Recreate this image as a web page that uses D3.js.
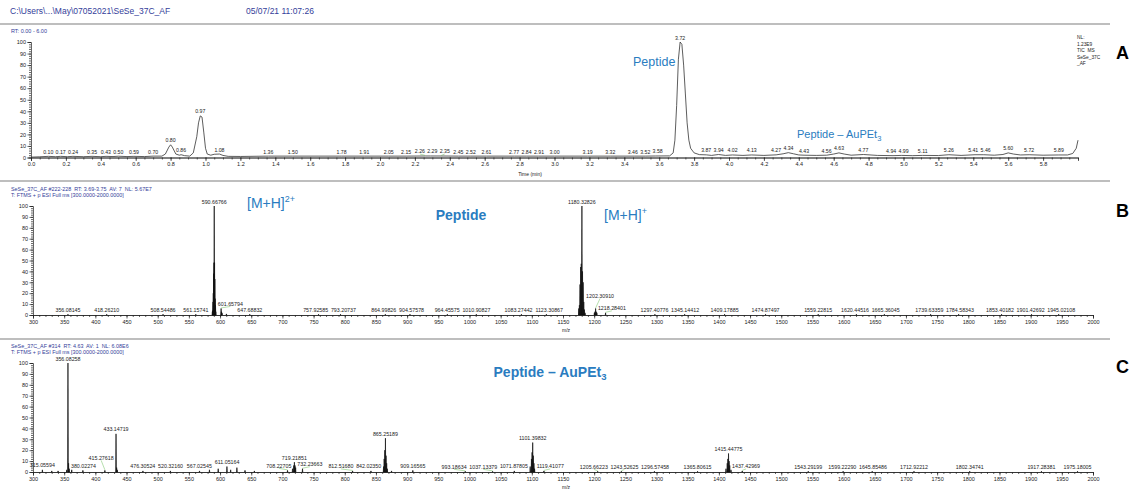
<!DOCTYPE html>
<html>
<head>
<meta charset="utf-8">
<script src="https://cdn.jsdelivr.net/npm/d3@7"></script>
<style>
  body { margin: 0; background: #fff; }
  svg { display: block; font-family: "Liberation Sans", Arial, sans-serif; }
  .pre { white-space: pre; }
</style>
</head>
<body>
<svg id="chart" width="1136" height="491"></svg>
<script>
// ---- Panel A: TIC chromatogram (time in min, relative abundance) ----
const ticTime = [0.00,0.05,0.10,0.14,0.17,0.21,0.24,0.30,0.35,0.40,0.43,0.47,0.50,0.55,0.59,0.65,0.70,0.75,
  0.77,0.79,0.80,0.81,0.83,0.85,0.86,0.88,0.91,0.93,0.95,0.96,0.97,0.98,0.99,1.00,1.01,1.03,1.05,1.08,1.10,1.13,
  1.20,1.36,1.50,1.78,1.91,2.05,2.15,2.26,2.29,2.35,2.45,2.52,2.61,2.77,2.84,2.91,3.00,3.19,3.32,3.46,3.52,3.58,
  3.66,3.68,3.69,3.70,3.71,3.72,3.73,3.74,3.75,3.76,3.77,3.78,3.80,3.83,3.87,3.90,3.94,3.98,4.02,4.08,4.13,4.20,
  4.27,4.31,4.34,4.37,4.40,4.43,4.50,4.56,4.60,4.63,4.66,4.70,4.77,4.85,4.94,4.99,5.05,5.11,5.20,5.26,5.33,5.41,
  5.46,5.52,5.57,5.60,5.63,5.67,5.72,5.80,5.89,5.94,5.97,5.99,6.00];
const ticInt = [0.3,0.6,1.0,0.7,1.0,0.7,1.0,0.7,1.0,0.7,1.0,0.8,1.1,0.8,1.0,0.8,1.2,1.2,
  3,9,11,9,3,2,2.4,1.6,1.2,4,18,30,36,35,22,8,3,2,2.8,3.0,1.8,1.0,
  0.9,1.2,1.2,1.2,1.2,1.2,1.2,1.3,1.3,1.3,1.2,1.2,1.2,1.2,1.2,1.2,1.2,1.2,1.2,1.2,1.2,1.3,
  1.4,4,15,45,85,100,98,80,55,30,15,8,4,2.5,2.3,1.8,2.6,1.8,2.2,1.8,2.2,1.8,
  2.3,3.2,4.2,3.2,2.2,2.0,1.8,2.0,3.0,4.0,3.0,2.0,2.6,1.8,1.6,1.8,1.6,1.8,1.7,2.4,1.8,2.4,
  2.4,2.0,2.6,4.0,3.0,2.2,2.4,2.0,2.2,2.2,3.5,8,15];
const ticLabels = ["0.10","0.17","0.24","0.35","0.43","0.50","0.59","0.70","0.80","0.86","0.97","1.08","1.36",
  "1.50","1.78","1.91","2.05","2.15","2.26","2.29","2.35","2.45","2.52","2.61","2.77","2.84","2.91","3.00","3.19",
  "3.32","3.46","3.52","3.58","3.72","3.87","3.94","4.02","4.13","4.27","4.34","4.43","4.56","4.63","4.77","4.94",
  "4.99","5.11","5.26","5.41","5.46","5.60","5.72","5.89"];
const timeTicks = [0,0.2,0.4,0.6,0.8,1.0,1.2,1.4,1.6,1.8,2.0,2.2,2.4,2.6,2.8,3.0,3.2,3.4,3.6,3.8,4.0,4.2,4.4,4.6,4.8,5.0,5.2,5.4,5.6,5.8];
const nlLines = ["NL:", "1.23E9", "TIC  MS", "SeSe_37C", "_AF"];

// ---- Panel B: MS at RT 3.69-3.75 ----
const bMz = [356.08,418.26,508.54,561.16,
  587.67,588.17,588.67,589.17,589.67,590.17,590.67,591.17,591.67,592.17,592.67,593.17,
  601.66,602.16,603.16,610.2,647.69,757.93,793.21,864.99,904.58,964.46,1010.91,1083.27,1123.31,
  1175.3,1176.3,1177.3,1178.3,1179.3,1180.33,1181.3,1182.3,1183.3,1184.3,1185.3,
  1200.3,1201.3,1202.31,1203.3,1204.3,1218.28,
  1297.41,1345.14,1409.18,1474.87,1559.23,1620.45,1665.36,1739.63,1784.58,1853.40,1901.43,1945.02];
const bInt = [0.6,0.6,0.6,0.6,
  3,4,12,20,38,48,100,48,33,15,9,3,
  6,3,2,1,0.6,0.6,0.6,0.6,0.6,0.6,0.6,0.6,0.6,
  6,9,28,44,47,100,40,30,12,5,2,
  2,3,6,3,2,2,
  0.6,0.6,0.6,0.6,0.6,0.6,0.6,0.6,0.6,0.6,0.6,0.6];
const bLabels = ["356.08145","418.26210","508.54486","561.15741","590.66766","601.65794","647.68832","757.92585",
  "793.20737","864.99826","904.57578","964.45575","1010.90827","1083.27442","1123.30867","1180.32826","1202.30910",
  "1218.28401","1297.40776","1345.14412","1409.17885","1474.87497","1559.22815","1620.44516","1665.36045",
  "1739.63359","1784.58343","1853.40182","1901.42692","1945.02108"];

// ---- Panel C: MS at RT 4.63 ----
const cMz = [315.06,330.1,340.2,354.1,356.08,357.08,358.08,362.1,380.02,415.28,
  433.15,434.15,435.15,476.31,520.32,567.03,583.0,597.0,611.05,617.0,627.0,640.0,655.0,
  708.23,716.2,718.2,719.22,720.2,721.2,732.24,812.52,842.02,
  862.2,863.2,864.2,865.25,866.2,867.2,868.2,875.0,909.17,993.19,1037.13,1071.88,
  1097.4,1099.4,1100.4,1101.40,1102.4,1103.4,1104.4,1119.41,
  1205.66,1243.53,1296.57,1365.81,1411.4,1413.4,1414.4,1415.45,1416.4,1417.4,1419.4,1437.43,
  1543.29,1599.22,1645.85,1712.92,1802.35,1917.28,1975.18];
const cInt = [2,1,1,2,100,8,3,2,1.5,1.5,
  35,4,2,1,1,1,2,3,5,2,4,1.5,1,
  1.5,3,6,9,6,4,3,1,1,
  5,12,20,31,15,8,3,1,1.5,0.6,0.6,1,
  5,12,18,27,15,8,3,1,
  0.6,0.6,0.6,0.6,3,8,12,17,10,6,2,1,
  0.6,0.6,0.6,0.6,0.6,0.6,0.6];
const cLabels = ["315.05594","356.08258","380.02274","415.27618","433.14719","476.30524","520.32160","567.02545",
  "611.05164","708.22705","719.21851","732.23663","812.51680","842.02350","865.25189","909.16565","993.18634",
  "1037.13379","1071.87805","1101.39832","1119.41077","1205.66223","1243.52625","1296.57458","1365.80615",
  "1415.44775","1437.42969","1543.29199","1599.22290","1645.85486","1712.92212","1802.34741","1917.28381",
  "1975.18005"];

const mzTicks = d3.range(300, 2001, 50);
const pctTicks = d3.range(0, 101, 10);

const svg = d3.select("#chart");
const BLUE_HDR = "#34409a";
const BLUE_ANN = "#2a7cc0";
const INK = "#222";
const LEAD = "#6cbf5a";

// header
svg.append("text").attr("x", 10).attr("y", 14).attr("font-size", 8.5).attr("fill", BLUE_HDR)
  .text("C:\\Users\\...\\May\\07052021\\SeSe_37C_AF");
svg.append("text").attr("x", 246).attr("y", 14).attr("font-size", 8.5).attr("fill", BLUE_HDR)
  .text("05/07/21 11:07:26");
[24, 181, 339].forEach(y => svg.append("line").attr("x1", 0).attr("x2", 1110).attr("y1", y).attr("y2", y)
  .attr("stroke", "#a8a8a8").attr("stroke-width", 1.5));

function textW(s, fs) { return s.length * fs * 0.54; }

// push overlapping labels apart horizontally; pinned labels stay put,
// two pinned labels that collide -> lift the one on the taller peak
function relax(items, gap) {
  for (let it = 0; it < 300; it++) {
    let moved = false;
    items.sort((a, b) => a.x - b.x);
    for (let i = 0; i < items.length; i++) {
      for (let j = i + 1; j < items.length; j++) {
        const a = items[i], b = items[j];
        if (b.x - b.w / 2 > a.x + a.w / 2 + gap + 40) break;
        if (Math.abs(a.y - b.y) > 5.5) continue;
        const ov = (a.x + a.w / 2 + gap) - (b.x - b.w / 2);
        if (ov <= 0.01) continue;
        if (a.pin && b.pin) {
          const up = a.py < b.py ? a : b;
          up.y = Math.min(a.y, b.y) - 8;
        }
        else if (a.pin) b.x += ov;
        else if (b.pin) a.x -= ov;
        else { a.x -= ov / 2; b.x += ov / 2; }
        moved = true;
      }
    }
    if (!moved) break;
  }
}

// move labels off taller neighbouring peaks
function avoidPeaks(items, sticks, x, y) {
  items.forEach(d => {
    for (let k = 0; k < 6; k++) {
      let hit = false;
      sticks.forEach(s => {
        if (Math.abs(s.m - d.m) < 2.5 || y(s.h) > d.y) return;
        const sx = x(s.m);
        if (Math.abs(sx - d.x) < d.w / 2 + 1.5) {
          d.x = sx < d.x0 ? sx + d.w / 2 + 2 : sx - d.w / 2 - 2;
          d.pin = true;
          hit = true;
        }
      });
      if (!hit) break;
    }
  });
}

function styleAxis(a) {
  a.attr("font-family", null).attr("font-size", null);
  a.selectAll("text").attr("font-size", 5.5).attr("fill", INK);
}

function drawYAxis(g, y, x0) {
  g.append("g").attr("transform", `translate(${x0},0)`)
    .call(d3.axisLeft(y).tickValues(d3.range(0, 101, 2)).tickSize(2).tickFormat(""))
    .call(a => a.select(".domain").remove());
  g.append("g").attr("transform", `translate(${x0},0)`)
    .call(d3.axisLeft(y).tickValues(pctTicks).tickSize(3.5).tickPadding(1.5))
    .call(styleAxis);
  g.selectAll("line, path").attr("stroke", INK).attr("stroke-width", 0.7);
}

function drawLabels(g, items, fs) {
  items.forEach(d => {
    if (Math.abs(d.x - d.x0) > 3 || d.py - d.y > 6) {
      g.append("line").attr("x1", d.x0).attr("y1", d.py - 0.5).attr("x2", d.x).attr("y2", d.y + 0.5)
        .attr("stroke", LEAD).attr("stroke-width", 0.5);
    }
    g.append("text").attr("x", d.x).attr("y", d.y).attr("font-size", fs).attr("fill", INK)
      .attr("text-anchor", "middle").text(d.s);
  });
}

// ---------- Panel A ----------
(function () {
  const g = svg.append("g");
  const x = d3.scaleLinear().domain([0, 6]).range([31, 1078]);
  const y = d3.scaleLinear().domain([0, 100]).range([157.5, 42]);
  g.append("text").attr("x", 11).attr("y", 33).attr("font-size", 5.5).attr("fill", BLUE_HDR).text("RT: 0.00 - 6.00");

  drawYAxis(g, y, 31);
  const xa = g.append("g").attr("transform", `translate(0,${y(0)})`);
  xa.append("g").call(d3.axisBottom(x).tickValues(d3.range(0, 6.001, 0.05)).tickSize(2).tickFormat(""));
  xa.append("g").call(d3.axisBottom(x).tickValues(timeTicks).tickSize(3.5).tickPadding(1.5).tickFormat(d3.format(".1f")))
    .call(styleAxis);
  xa.selectAll("line, path").attr("stroke", INK).attr("stroke-width", 0.7);
  g.append("text").attr("x", 530).attr("y", 175.5).attr("font-size", 5).attr("fill", INK)
    .attr("text-anchor", "middle").text("Time (min)");

  const pts = ticTime.map((t, i) => [t, ticInt[i]]);
  g.append("path").datum(pts)
    .attr("d", d3.line().x(d => x(d[0])).y(d => y(d[1])))
    .attr("fill", "none").attr("stroke", "#333").attr("stroke-width", 0.8);

  const bis = d3.bisector(d => d[0]).left;
  const valAt = t => {
    const i = Math.min(Math.max(bis(pts, t), 1), pts.length - 1);
    const a = pts[i - 1], b = pts[i];
    return a[1] + (b[1] - a[1]) * (t - a[0]) / (b[0] - a[0]);
  };
  const fs = 5.2;
  const items = ticLabels.map(s => {
    const t = +s;
    return { s, x0: x(t), x: x(t), w: textW(s, fs), y: y(valAt(t)) - 2.5, py: y(valAt(t)) };
  });
  relax(items, 1.2);
  drawLabels(g, items, fs);

  g.append("text").attr("x", 633).attr("y", 65.5).attr("font-size", 12.5).attr("fill", BLUE_ANN).text("Peptide");
  const t2 = g.append("text").attr("x", 797).attr("y", 138).attr("font-size", 11).attr("fill", BLUE_ANN);
  t2.append("tspan").text("Peptide \u2013 AuPEt");
  t2.append("tspan").attr("font-size", 7.5).attr("dy", 2.5).text("3");

  nlLines.forEach((s, i) => g.append("text").attr("class", "pre").attr("x", 1077).attr("y", 39 + i * 6.5)
    .attr("font-size", 4.8).attr("fill", INK).text(s));
  svg.append("text").attr("x", 1116).attr("y", 59).attr("font-size", 18).attr("font-weight", "bold")
    .attr("fill", "#000").text("A");
})();

// ---------- spectrum panels ----------
function spectrum(opt) {
  const g = svg.append("g");
  const x = d3.scaleLinear().domain([300, 2000]).range([33, 1093]);
  const y = d3.scaleLinear().domain([0, 100]).range([opt.y0, opt.y100]);
  opt.header.forEach((s, i) => g.append("text").attr("class", "pre").attr("x", 11).attr("y", opt.hy + i * 5.8)
    .attr("font-size", 5.4).attr("fill", BLUE_HDR).text(s));

  drawYAxis(g, y, 33);
  const xa = g.append("g").attr("transform", `translate(0,${y(0)})`);
  xa.append("g").call(d3.axisBottom(x).tickValues(d3.range(300, 2001, 10)).tickSize(2).tickFormat(""));
  xa.append("g").call(d3.axisBottom(x).tickValues(mzTicks).tickSize(3.5).tickPadding(1.5).tickFormat(d3.format("d")))
    .call(styleAxis);
  xa.selectAll("line, path").attr("stroke", INK).attr("stroke-width", 0.7);
  g.append("text").attr("x", 566).attr("y", y(0) + 17).attr("font-size", 5).attr("fill", INK)
    .attr("text-anchor", "middle").text("m/z");

  const sticks = opt.mz.map((m, i) => ({ m, h: opt.int[i] }));
  g.selectAll("path.pk").data(sticks).join("path").attr("class", "pk")
    .attr("d", d => `M${x(d.m - 0.45)},${y(0)}L${x(d.m)},${y(d.h)}L${x(d.m + 0.45)},${y(0)}Z`)
    .attr("fill", "#111").attr("stroke", "#111").attr("stroke-width", 0.7);

  const fs = 5.3;
  const items = opt.labels.map(s => {
    const m = +s;
    const near = sticks.reduce((a, b) => Math.abs(b.m - m) < Math.abs(a.m - m) ? b : a);
    return { s, m, x0: x(m), x: x(m), w: textW(s, fs), y: y(near.h) - 2.5, py: y(near.h) };
  });
  for (let k = 0; k < 3; k++) { avoidPeaks(items, sticks, x, y); relax(items, 2); }
  drawLabels(g, items, fs);
  svg.append("text").attr("x", 1116).attr("y", opt.letterY).attr("font-size", 18).attr("font-weight", "bold")
    .attr("fill", "#000").text(opt.letter);
  return g;
}

const gB = spectrum({
  mz: bMz, int: bInt, labels: bLabels, y0: 315, y100: 206, hy: 191, letter: "B", letterY: 217,
  header: ["SeSe_37C_AF #222-228  RT: 3.69-3.75  AV: 7  NL: 5.67E7", "T: FTMS + p ESI Full ms [300.0000-2000.0000]"]
});
function ion(g, x0, y0, sup) {
  const t = g.append("text").attr("x", x0).attr("y", y0).attr("font-size", 14).attr("fill", BLUE_ANN);
  t.append("tspan").text("[M+H]");
  t.append("tspan").attr("font-size", 9).attr("dy", -6).text(sup);
}
ion(gB, 247, 208, "2+");
ion(gB, 604, 220, "+");
gB.append("text").attr("x", 461).attr("y", 220).attr("font-size", 14).attr("font-weight", "bold")
  .attr("fill", BLUE_ANN).attr("text-anchor", "middle").text("Peptide");

const gC = spectrum({
  mz: cMz, int: cInt, labels: cLabels, y0: 472, y100: 363, hy: 348, letter: "C", letterY: 373,
  header: ["SeSe_37C_AF #314  RT: 4.63  AV: 1  NL: 6.08E6", "T: FTMS + p ESI Full ms [300.0000-2000.0000]"]
});
const tc = gC.append("text").attr("x", 550).attr("y", 377).attr("font-size", 14).attr("font-weight", "bold")
  .attr("fill", BLUE_ANN).attr("text-anchor", "middle");
tc.append("tspan").text("Peptide \u2013 AuPEt");
tc.append("tspan").attr("font-size", 9.5).attr("dy", 3).text("3");
</script>
</body>
</html>
